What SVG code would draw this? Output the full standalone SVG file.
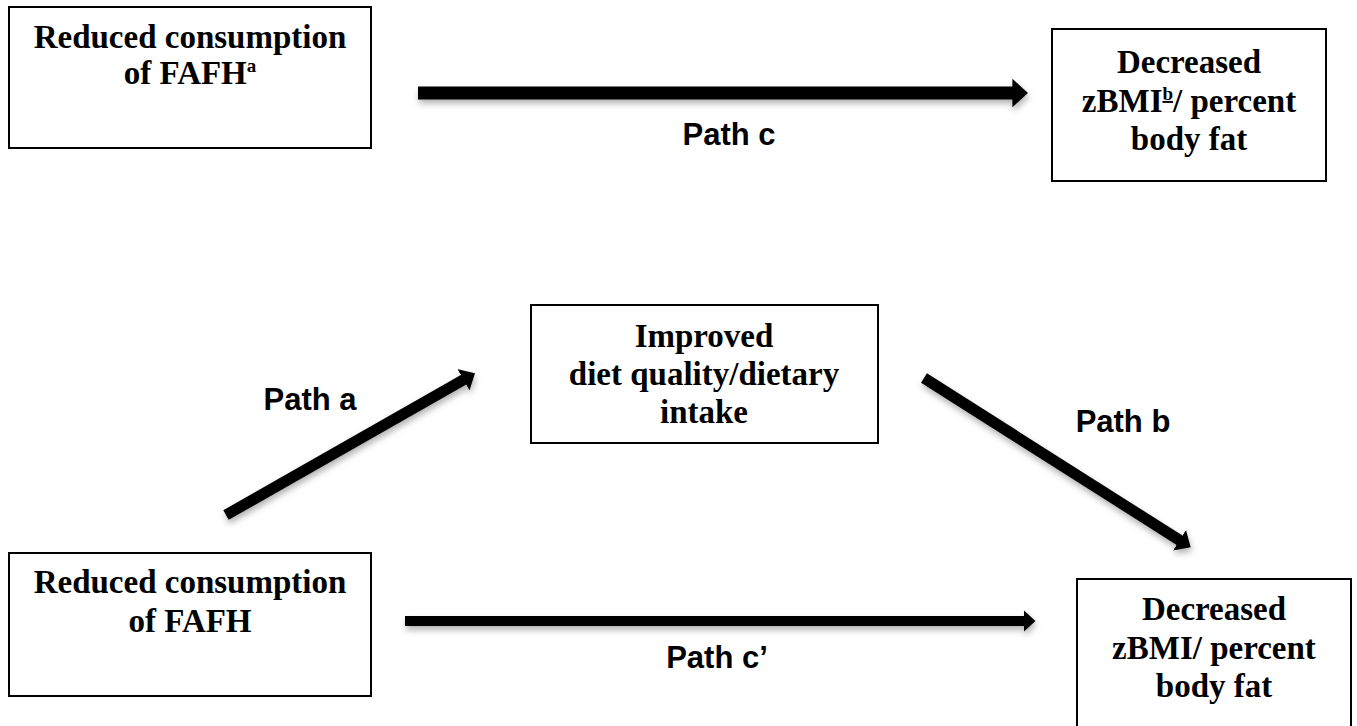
<svg xmlns="http://www.w3.org/2000/svg" width="1357" height="726" viewBox="0 0 1357 726">
<style>
.box{fill:#fff;stroke:#000;stroke-width:2}
.nt{font-family:"Liberation Serif","Times New Roman",serif;font-weight:bold;font-size:33px;text-anchor:middle;fill:#000}
.lb{font-family:"Liberation Sans",Arial,sans-serif;font-weight:bold;font-size:31px;text-anchor:middle;fill:#000}
.arr{stroke:#000;fill:none;marker-end:url(#head);filter:url(#sh)}
</style>
<defs>
<marker id="head" viewBox="0 0 12 22" refX="0.5" refY="11" markerWidth="1.2" markerHeight="2.2" orient="auto" markerUnits="strokeWidth">
<path d="M0,0 L12,11 L0,22 Z" fill="#000"/>
</marker>
<filter id="sh" filterUnits="userSpaceOnUse" x="0" y="0" width="1357" height="726">
<feDropShadow dx="1" dy="4" stdDeviation="3" flood-color="#000" flood-opacity="0.3"/>
</filter>
</defs>
<rect width="1357" height="726" fill="#fff"/>
<g id="connectors">
<line class="arr" x1="418" y1="93" x2="1013" y2="93" stroke-width="13"/>
<line class="arr" x1="226" y1="515" x2="464" y2="379.5" stroke-width="11"/>
<line class="arr" x1="924" y1="378" x2="1180" y2="540.5" stroke-width="11"/>
<line class="arr" x1="405" y1="621" x2="1024" y2="621" stroke-width="10"/>
</g>
<g id="labels">
<text class="lb" x="729" y="145">Path c</text>
<text class="lb" x="310" y="410">Path a</text>
<text class="lb" x="1123" y="432">Path b</text>
<text class="lb" x="717" y="668">Path c’</text>
</g>
<g id="node-fafh-top">
<rect class="box" x="9" y="7" width="362" height="141"/>
<text class="nt" x="190" y="48">Reduced consumption</text>
<text class="nt" x="190" y="84">of FAFH<tspan font-size="19" dy="-12">a</tspan></text>
</g>
<g id="node-zbmi-top">
<rect class="box" x="1052" y="29" width="274" height="152"/>
<text class="nt" x="1189" y="73">Decreased</text>
<text class="nt" x="1189" y="112">zBMI<tspan font-size="19" dy="-12" text-decoration="underline">b</tspan><tspan dy="12">/ percent</tspan></text>
<text class="nt" x="1189" y="150">body fat</text>
</g>
<g id="node-diet">
<rect class="box" x="531" y="305" width="347" height="138"/>
<text class="nt" x="704" y="347">Improved</text>
<text class="nt" x="704" y="385">diet quality/dietary</text>
<text class="nt" x="704" y="423">intake</text>
</g>
<g id="node-fafh-bottom">
<rect class="box" x="9" y="553" width="362" height="143"/>
<text class="nt" x="190" y="593">Reduced consumption</text>
<text class="nt" x="190" y="632">of FAFH</text>
</g>
<g id="node-zbmi-bottom">
<rect class="box" x="1077" y="579" width="274" height="160"/>
<text class="nt" x="1214" y="620">Decreased</text>
<text class="nt" x="1214" y="659">zBMI/ percent</text>
<text class="nt" x="1214" y="697">body fat</text>
</g>
</svg>
